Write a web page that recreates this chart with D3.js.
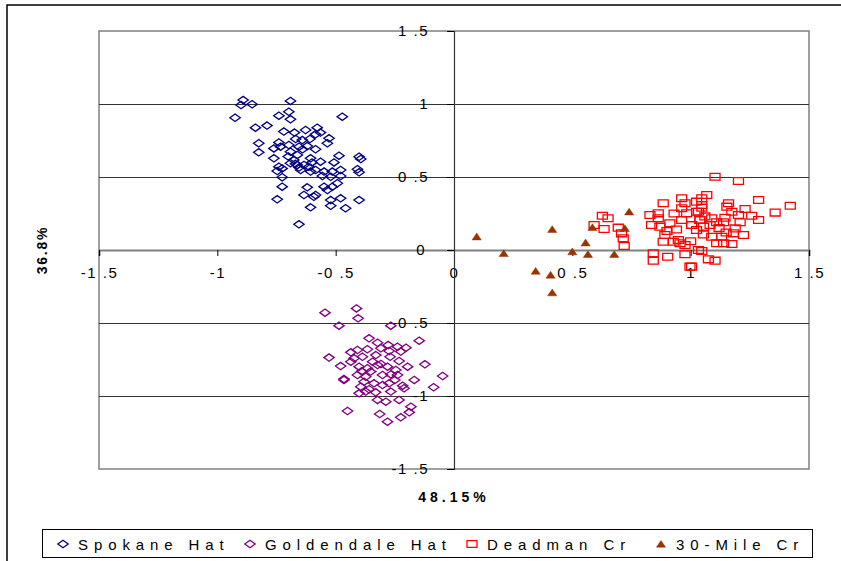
<!DOCTYPE html>
<html>
<head>
<meta charset="utf-8">
<script src="https://cdn.jsdelivr.net/npm/d3@7"></script>
<style>
  html, body { margin: 0; padding: 0; background: #fff; }
  svg { display: block; font-family: "Liberation Sans", Arial, sans-serif; }
</style>
</head>
<body>
<svg id="chart" width="841" height="561"></svg>
<script>
// Axis ticks (both axes share the same range)
const tickValues = [-1.5, -1, -0.5, 0, 0.5, 1, 1.5];
const tickLabels = ["-1 .5", "-1", "-0 .5", "0", "0 .5", "1", "1 .5"];
const xTitle = "48.15%";
const yTitle = "36.8%";

// Component scores [PC1, PC2]
const spokaneHat = [
  [-0.891, 1.027], [-0.900, 0.993], [-0.853, 0.998], [-0.691, 1.021], [-0.925, 0.906],
  [-0.740, 0.920], [-0.698, 0.947], [-0.691, 0.895], [-0.472, 0.913], [-0.839, 0.838],
  [-0.790, 0.852], [-0.719, 0.811], [-0.674, 0.804], [-0.627, 0.822], [-0.578, 0.838],
  [-0.564, 0.804], [-0.585, 0.792], [-0.528, 0.765], [-0.825, 0.731], [-0.740, 0.737],
  [-0.669, 0.760], [-0.641, 0.753], [-0.609, 0.760], [-0.761, 0.696], [-0.733, 0.708],
  [-0.698, 0.719], [-0.655, 0.708], [-0.620, 0.712], [-0.585, 0.690], [-0.535, 0.731],
  [-0.825, 0.669], [-0.691, 0.673], [-0.662, 0.651], [-0.761, 0.628], [-0.677, 0.616],
  [-0.606, 0.628], [-0.564, 0.605], [-0.507, 0.600], [-0.486, 0.646], [-0.401, 0.639],
  [-0.394, 0.623], [-0.740, 0.571], [-0.726, 0.559], [-0.691, 0.594], [-0.662, 0.582],
  [-0.634, 0.582], [-0.613, 0.571], [-0.585, 0.548], [-0.549, 0.537], [-0.514, 0.537],
  [-0.479, 0.548], [-0.408, 0.553], [-0.401, 0.532], [-0.747, 0.541], [-0.648, 0.548],
  [-0.606, 0.537], [-0.556, 0.507], [-0.521, 0.502], [-0.479, 0.507], [-0.726, 0.498],
  [-0.726, 0.434], [-0.620, 0.429], [-0.549, 0.434], [-0.514, 0.434], [-0.535, 0.411],
  [-0.493, 0.457], [-0.634, 0.377], [-0.592, 0.365], [-0.585, 0.377], [-0.521, 0.342],
  [-0.479, 0.354], [-0.401, 0.342], [-0.747, 0.347], [-0.606, 0.292], [-0.521, 0.303],
  [-0.458, 0.286], [-0.655, 0.176], [-0.670, 0.590], [-0.655, 0.565], [-0.700, 0.640],
  [-0.600, 0.600], [-0.640, 0.690]
];

const goldendaleHat = [
  [-0.545, -0.429], [-0.412, -0.400], [-0.405, -0.468], [-0.486, -0.518], [-0.267, -0.518],
  [-0.359, -0.605], [-0.323, -0.635], [-0.278, -0.651], [-0.239, -0.662], [-0.203, -0.669],
  [-0.147, -0.621], [-0.528, -0.737], [-0.436, -0.701], [-0.408, -0.685], [-0.366, -0.680],
  [-0.309, -0.673], [-0.274, -0.692], [-0.225, -0.696], [-0.479, -0.795], [-0.422, -0.742],
  [-0.387, -0.731], [-0.344, -0.765], [-0.309, -0.781], [-0.270, -0.731], [-0.232, -0.760],
  [-0.196, -0.799], [-0.123, -0.783], [-0.401, -0.799], [-0.366, -0.810], [-0.323, -0.788],
  [-0.281, -0.799], [-0.246, -0.822], [-0.465, -0.884], [-0.408, -0.856], [-0.373, -0.868],
  [-0.302, -0.856], [-0.267, -0.852], [-0.239, -0.856], [-0.168, -0.890], [-0.048, -0.863],
  [-0.394, -0.936], [-0.359, -0.954], [-0.338, -0.913], [-0.302, -0.925], [-0.274, -0.913],
  [-0.217, -0.929], [-0.086, -0.940], [-0.401, -0.982], [-0.373, -0.970], [-0.331, -0.975],
  [-0.267, -0.970], [-0.211, -0.947], [-0.323, -1.027], [-0.288, -1.039], [-0.232, -1.027],
  [-0.182, -1.073], [-0.450, -1.103], [-0.314, -1.123], [-0.281, -1.176], [-0.225, -1.146],
  [-0.189, -1.112], [-0.436, -0.765], [-0.352, -0.833], [-0.380, -0.902], [-0.465, -0.890],
  [-0.330, -0.720], [-0.250, -0.890], [-0.390, -0.830]
];

const deadmanCr = [
  [0.884, 0.320], [0.828, 0.240], [0.863, 0.251], [0.863, 0.217], [0.912, 0.183],
  [0.835, 0.171], [0.870, 0.160], [0.891, 0.103], [0.884, 0.057], [0.927, 0.057],
  [0.948, 0.068], [0.955, 0.046], [0.976, 0.034], [0.842, -0.023], [0.903, -0.046],
  [0.842, -0.073], [0.976, -0.029], [0.997, -0.114], [0.627, 0.235], [0.651, 0.217],
  [0.592, 0.171], [0.634, 0.144], [0.694, 0.153], [0.708, 0.114], [0.715, 0.080],
  [0.719, 0.027], [0.962, 0.354], [0.976, 0.320], [0.962, 0.286], [0.983, 0.251],
  [1.025, 0.331], [1.025, 0.262], [0.962, 0.205], [1.004, 0.171], [1.025, 0.137],
  [1.039, 0.205], [1.033, 0.000], [1.103, 0.502], [1.202, 0.473], [1.068, 0.377],
  [1.047, 0.354], [1.047, 0.308], [1.047, 0.290], [1.160, 0.320], [1.153, 0.297],
  [1.287, 0.342], [1.230, 0.281], [1.421, 0.303], [1.357, 0.256], [1.033, 0.262],
  [1.174, 0.262], [1.202, 0.240], [1.258, 0.235], [1.287, 0.205], [1.145, 0.221],
  [1.089, 0.217], [1.039, 0.205], [1.110, 0.190], [1.139, 0.190], [1.209, 0.190],
  [1.004, 0.171], [1.054, 0.160], [1.082, 0.171], [1.188, 0.148], [1.181, 0.114],
  [1.223, 0.103], [1.054, 0.107], [1.089, 0.091], [1.131, 0.091], [1.110, 0.046],
  [1.139, 0.046], [1.174, 0.041], [1.047, -0.007], [1.075, -0.064], [1.103, -0.073],
  [1.004, -0.114], [0.930, 0.250], [0.940, 0.140], [1.000, 0.060], [1.120, 0.150],
  [1.150, 0.120], [0.900, 0.130], [1.060, 0.230]
];

const thirtyMileCr = [
  [0.096, 0.091], [0.210, -0.023], [0.415, 0.142], [0.345, -0.144], [0.408, -0.171],
  [0.415, -0.292], [0.500, -0.011], [0.556, 0.050], [0.566, -0.029], [0.585, 0.155],
  [0.677, -0.029], [0.722, 0.148], [0.740, 0.262]
];

const seriesNames = ["Spokane Hat", "Goldendale Hat", "Deadman Cr", "30-Mile Cr"];
const seriesColors = ["#000080", "#800080", "#ff0000", "#993300"];
const seriesShapes = ["diamond", "diamond", "square", "triangle"];
const seriesData = [spokaneHat, goldendaleHat, deadmanCr, thirtyMileCr];

const svg = d3.select("#chart");
const plot = { left: 99, top: 31, right: 809, bottom: 469 };

const x = d3.scaleLinear().domain([-1.5, 1.5]).range([plot.left, plot.right]);
const y = d3.scaleLinear().domain([-1.5, 1.5]).range([plot.bottom, plot.top]);

// Marker outlines, centred on the origin
function markerPath(shape) {
  if (shape === "diamond") return "M0,-3.7L5.2,0L0,3.7L-5.2,0Z";
  if (shape === "square") return "M-5,-3.4H5V3.4H-5Z";
  return "M0,-3.6L4.6,3.2H-4.6Z";
}

// Outer chart frame
svg.append("rect")
  .attr("x", 7).attr("y", 5).attr("width", 900).attr("height", 700)
  .attr("fill", "none").attr("stroke", "#000").attr("stroke-width", 1.5);

// Plot area frame
svg.append("rect")
  .attr("x", plot.left).attr("y", plot.top)
  .attr("width", plot.right - plot.left).attr("height", plot.bottom - plot.top)
  .attr("fill", "#fff").attr("stroke", "#808080").attr("stroke-width", 1.5);

// Horizontal gridlines
svg.append("g")
  .selectAll("line")
  .data(tickValues.filter(v => v !== 0 && Math.abs(v) !== 1.5))
  .join("line")
  .attr("x1", plot.left).attr("x2", plot.right)
  .attr("y1", d => Math.round(y(d)) + 0.5).attr("y2", d => Math.round(y(d)) + 0.5)
  .attr("stroke", "#333").attr("stroke-width", 1);

// X axis through y = 0
const xAxis = d3.axisBottom(x).tickValues(tickValues).tickSize(6)
  .tickFormat((d, i) => tickLabels[i]);
const gx = svg.append("g")
  .attr("transform", `translate(0,${y(0)})`)
  .call(xAxis);
gx.select(".domain").attr("stroke", "#808080").attr("stroke-width", 2);
gx.selectAll(".tick line").attr("stroke", "#000");
gx.selectAll(".tick text")
  .attr("y", 17)
  .attr("font-size", 15)
  .attr("letter-spacing", 1.5)
  .attr("fill", "#000")
  .attr("font-family", "Liberation Sans, Arial, sans-serif");

// Y axis through x = 0
const yAxis = d3.axisLeft(y).tickValues(tickValues).tickSize(7)
  .tickFormat((d, i) => tickLabels[i]);
const gy = svg.append("g")
  .attr("transform", `translate(${x(0)},0)`)
  .call(yAxis);
gy.select(".domain").attr("stroke", "#333").attr("stroke-width", 1.2);
gy.selectAll(".tick line").attr("stroke", "#000");
gy.selectAll(".tick text")
  .attr("x", -25)
  .attr("font-size", 15)
  .attr("letter-spacing", 1.5)
  .attr("fill", "#000")
  .attr("font-family", "Liberation Sans, Arial, sans-serif");
gy.selectAll(".tick").filter(d => d === 0).select("text").attr("x", -28);

// Points
seriesData.forEach((data, si) => {
  const filled = seriesShapes[si] === "triangle";
  svg.append("g")
    .selectAll("path")
    .data(data)
    .join("path")
    .attr("transform", d => `translate(${x(d[0])},${y(d[1])})`)
    .attr("d", markerPath(seriesShapes[si]))
    .attr("fill", filled ? seriesColors[si] : "none")
    .attr("stroke", seriesColors[si])
    .attr("stroke-width", filled ? 0.5 : 1.3);
});

// Axis titles
svg.append("text")
  .attr("x", x(0)).attr("y", 502)
  .attr("text-anchor", "middle")
  .attr("font-size", 14).attr("font-weight", "bold")
  .attr("letter-spacing", 4)
  .text(xTitle);

svg.append("text")
  .attr("transform", `translate(47,${y(0)}) rotate(-90)`)
  .attr("text-anchor", "middle")
  .attr("font-size", 14).attr("font-weight", "bold")
  .attr("letter-spacing", 1.8)
  .text(yTitle);

// Legend
const legend = svg.append("g");
legend.append("rect")
  .attr("x", 42.5).attr("y", 529.5).attr("width", 770).attr("height", 28)
  .attr("fill", "#fff").attr("stroke", "#000").attr("stroke-width", 1);

const legendX = [63, 250, 472, 661];
seriesNames.forEach((name, i) => {
  const filled = seriesShapes[i] === "triangle";
  legend.append("path")
    .attr("transform", `translate(${legendX[i]},544)`)
    .attr("d", markerPath(seriesShapes[i]))
    .attr("fill", filled ? seriesColors[i] : "none")
    .attr("stroke", seriesColors[i])
    .attr("stroke-width", filled ? 0.5 : 1.3);
  legend.append("text")
    .attr("x", legendX[i] + 15).attr("y", 550)
    .attr("font-size", 15)
    .attr("letter-spacing", 5.9)
    .text(name);
});
</script>
</body>
</html>
